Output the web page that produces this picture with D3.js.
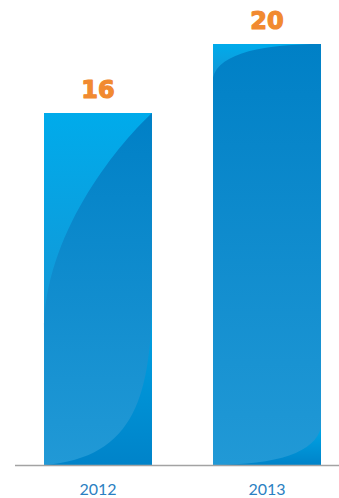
<!DOCTYPE html>
<html>
<head>
<meta charset="utf-8">
<script src="https://cdn.jsdelivr.net/npm/d3@7"></script>
<style>
  html, body { margin: 0; padding: 0; background: #ffffff; }
  svg { display: block; }
</style>
</head>
<body>
<div id="chart"></div>
<script>
// ---- data ----
const categories = ["2012", "2013"];
const values = [16, 20];
const tickLabels = ["2012", "2013"];

// ---- layout ----
const W = 339, H = 498;
const baseY = 465, topY = 44;
const yFloor = -4.4;   // visual floor of the value axis

const svg = d3.select("#chart").append("svg")
  .attr("width", W).attr("height", H);

const x = d3.scaleBand()
  .domain(categories)
  .range([-17, 382])
  .paddingInner(0.361)
  .paddingOuter(0.361);

const y = d3.scaleLinear()
  .domain([yFloor, d3.max(values)])
  .range([baseY, topY]);

// overlay shapes per bar (relative coords: u across width, v down height)
const shapes = [
  { c1: [[1,0],[0.65,0.10],[0,0.35],[0,0.62]],
    c2: [[1,0.50],[1,0.80],[0.85,0.98],[0,1]] },
  { c1: [[1,0],[0.5,0.0],[0.05,0.02],[0,0.08]],
    c2: [[1,0.91],[0.95,0.97],[0.6,1.0],[0,1]] }
];

const defs = svg.append("defs");
const gBase = defs.append("linearGradient").attr("id", "gBase")
  .attr("x1", 0).attr("y1", 0).attr("x2", 0).attr("y2", 1);
gBase.append("stop").attr("offset", "0%").attr("stop-color", "#0080c6");
gBase.append("stop").attr("offset", "100%").attr("stop-color", "#2199d6");

const gTop = defs.append("linearGradient").attr("id", "gTop")
  .attr("x1", 0).attr("y1", 0).attr("x2", 0).attr("y2", 1);
gTop.append("stop").attr("offset", "0%").attr("stop-color", "#00abeb");
gTop.append("stop").attr("offset", "100%").attr("stop-color", "#1496d5");

const gBot = defs.append("linearGradient").attr("id", "gBot")
  .attr("x1", 0).attr("y1", 0).attr("x2", 0).attr("y2", 1);
gBot.append("stop").attr("offset", "0%").attr("stop-color", "#00a6e6");
gBot.append("stop").attr("offset", "100%").attr("stop-color", "#0083c9");

const data = categories.map((c, i) => ({ c, v: values[i], i }));

const bars = svg.append("g").selectAll("g").data(data).join("g");

bars.append("rect")
  .attr("x", d => x(d.c))
  .attr("y", d => y(d.v))
  .attr("width", x.bandwidth())
  .attr("height", d => baseY - y(d.v))
  .attr("fill", "url(#gBase)");

function P(d, p) {
  const x0 = x(d.c), y0 = y(d.v), w = x.bandwidth(), h = baseY - y(d.v);
  return [x0 + p[0] * w, y0 + p[1] * h];
}

// top-left lighter region
bars.append("path")
  .attr("fill", "url(#gTop)")
  .attr("d", d => {
    const s = shapes[d.i].c1.map(p => P(d, p));
    const tl = P(d, [0, 0]);
    return `M${tl}L${s[0]}C${s[1]} ${s[2]} ${s[3]}Z`;
  });

// bottom-right region
bars.append("path")
  .attr("fill", "url(#gBot)")
  .attr("d", d => {
    const s = shapes[d.i].c2.map(p => P(d, p));
    const br = P(d, [1, 1]);
    return `M${s[0]}C${s[1]} ${s[2]} ${s[3]}L${br}Z`;
  });

// value labels
bars.append("text")
  .attr("x", d => x(d.c) + x.bandwidth() / 2)
  .attr("y", d => y(d.v) - 15)
  .attr("text-anchor", "middle")
  .attr("font-family", "DejaVu Sans")
  .attr("font-weight", "bold")
  .attr("font-size", 24)
  .attr("fill", "#f18a30")
  .attr("stroke", "#f18a30")
  .attr("stroke-width", 1.2)
  .attr("stroke-linejoin", "round")
  .text(d => d.v);

// baseline
svg.append("line")
  .attr("x1", 15).attr("x2", W)
  .attr("y1", baseY + 0.5).attr("y2", baseY + 0.5)
  .attr("stroke", "#a3a3a3").attr("stroke-width", 1.5);

// x axis labels
const xAxis = d3.axisBottom(x).tickSize(0).tickPadding(0)
  .tickFormat((d, i) => tickLabels[i]);
const ax = svg.append("g").attr("transform", `translate(0,${baseY})`).call(xAxis);
ax.select(".domain").remove();
ax.selectAll("text")
  .attr("dy", null)
  .attr("y", 30)
  .attr("font-family", "Lato")
  .attr("font-size", 16)
  .attr("fill", "#2a7fc2");
</script>
</body>
</html>
